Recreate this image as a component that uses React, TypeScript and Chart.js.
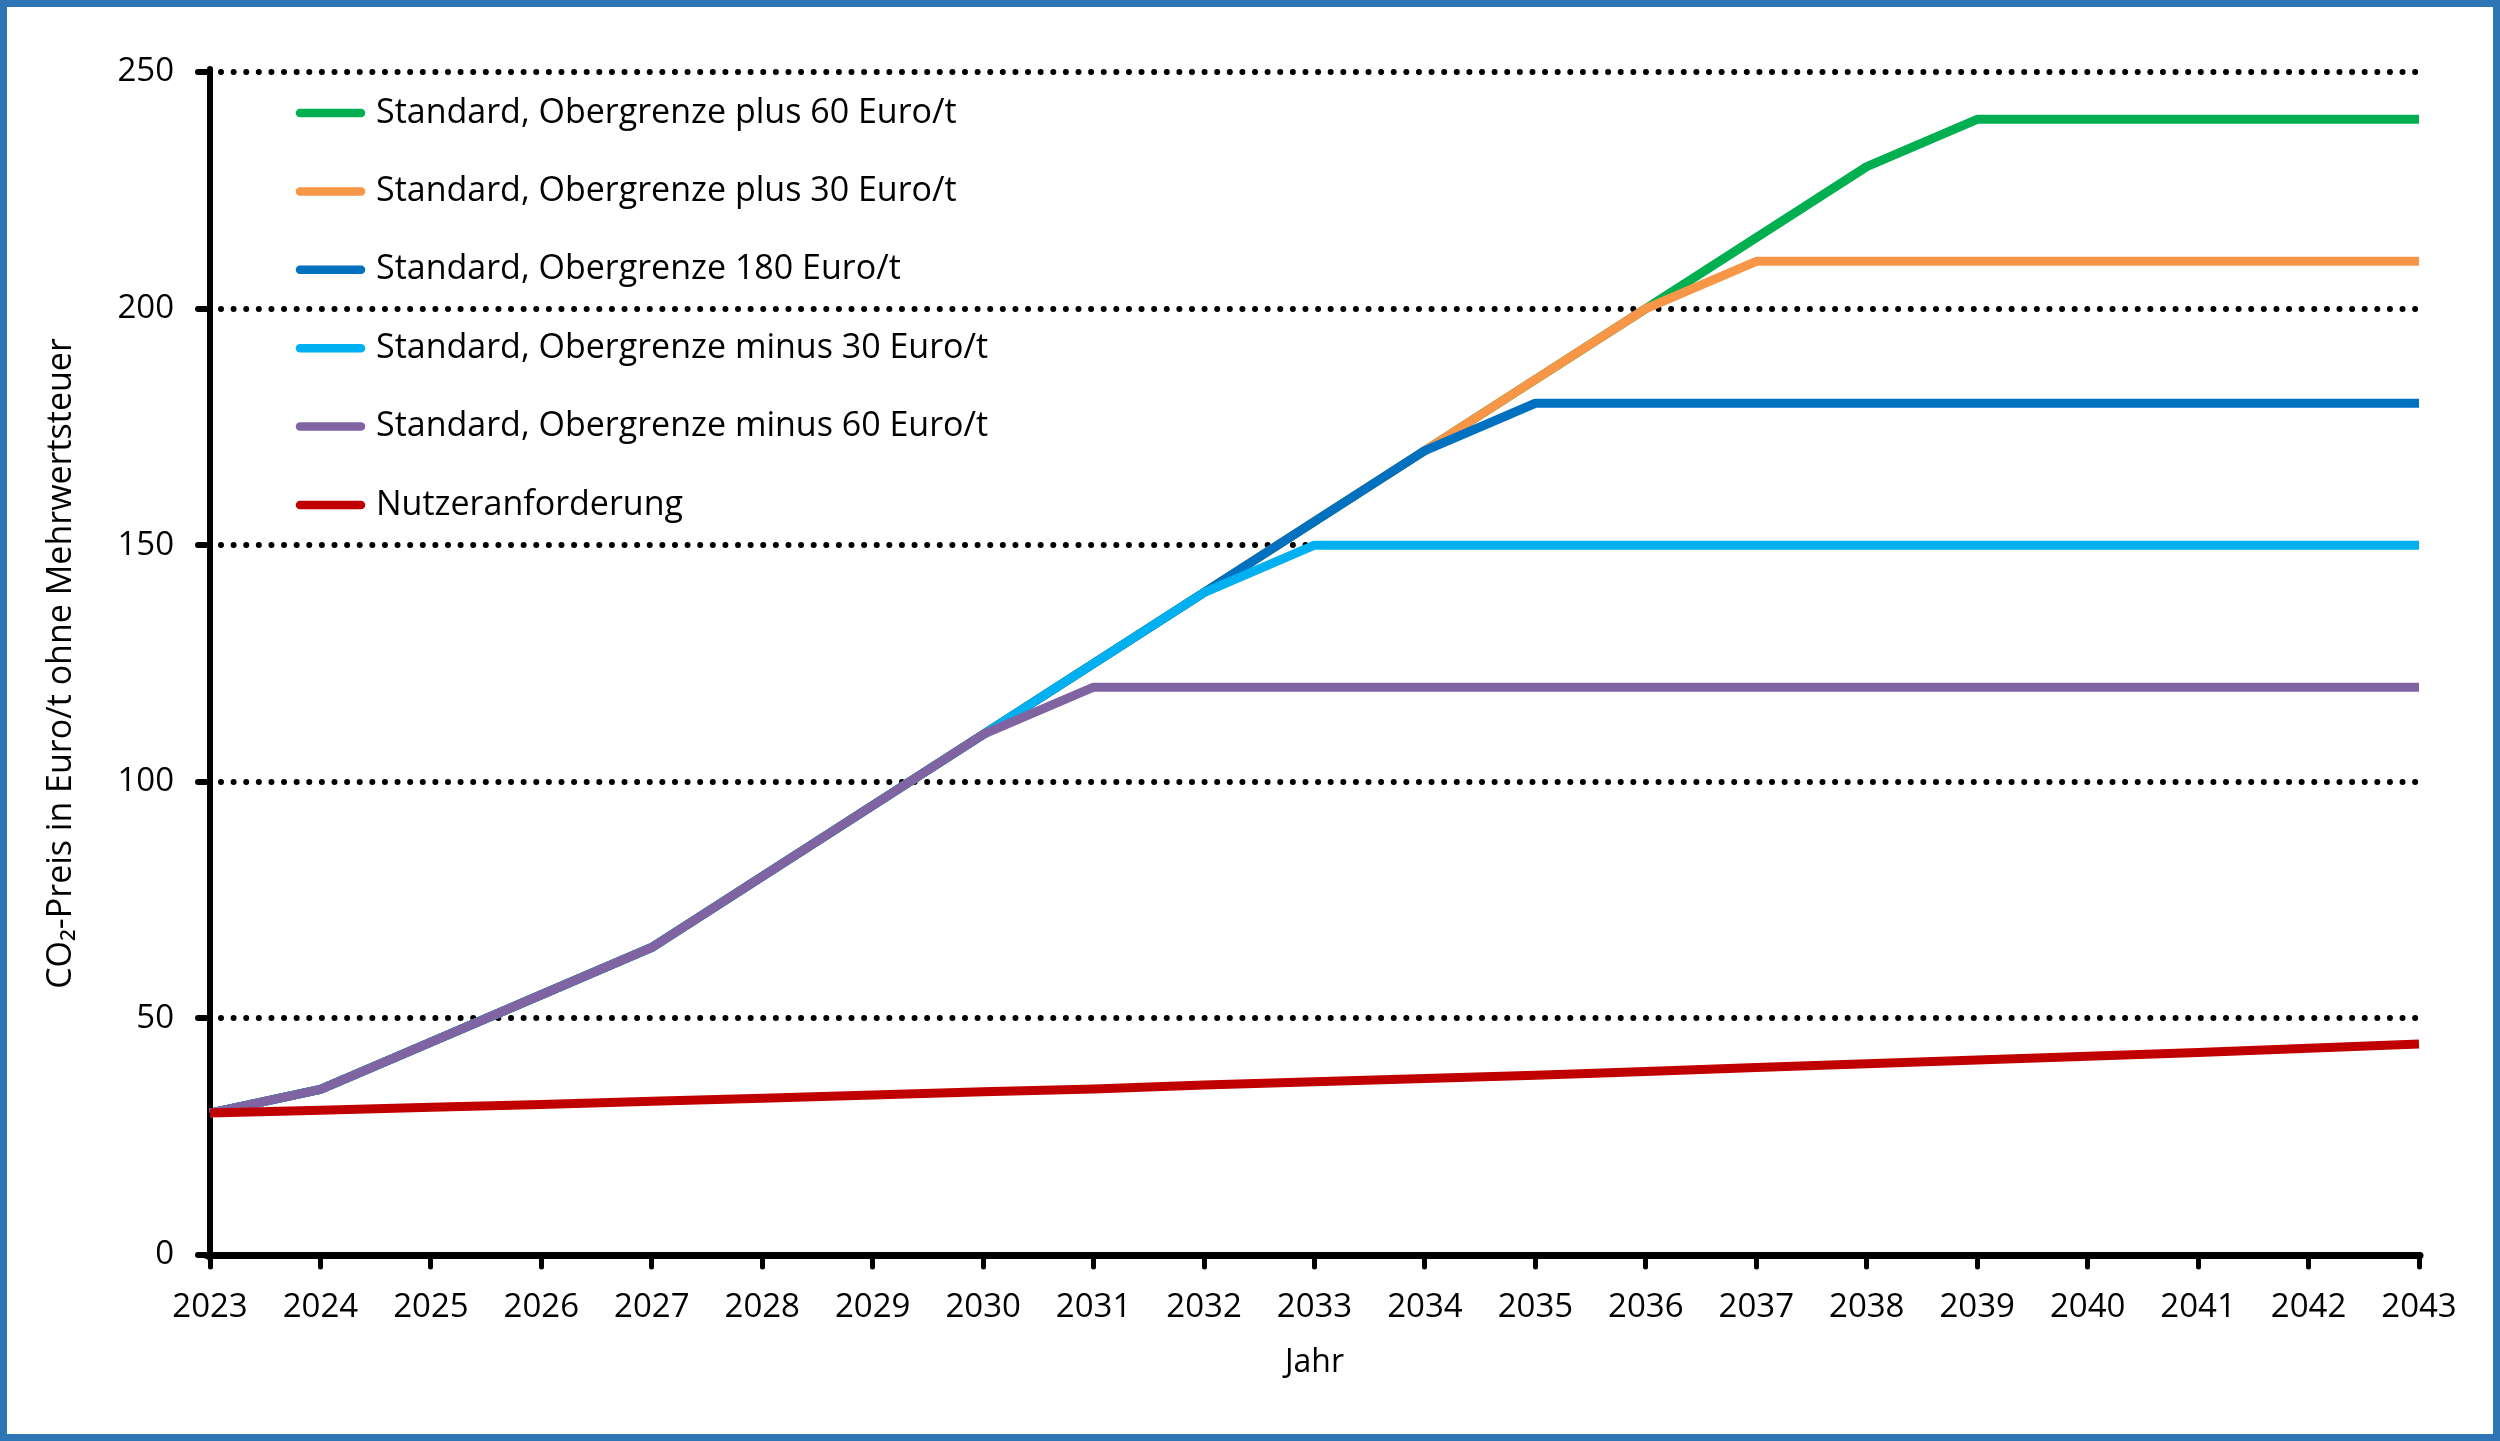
import React, { useEffect, useRef } from "react";
import { Chart, registerables } from "chart.js";

Chart.register(...registerables);

const years = [
  "2023", "2024", "2025", "2026", "2027", "2028", "2029", "2030", "2031", "2032", "2033",
  "2034", "2035", "2036", "2037", "2038", "2039", "2040", "2041", "2042", "2043",
];

const plus60 = [30, 35, 45, 55, 65, 80, 95, 110, 125, 140, 155, 170, 185, 200, 215, 230, 240, 240, 240, 240, 240];
const plus30 = [30, 35, 45, 55, 65, 80, 95, 110, 125, 140, 155, 170, 185, 200, 210, 210, 210, 210, 210, 210, 210];
const cap180 = [30, 35, 45, 55, 65, 80, 95, 110, 125, 140, 155, 170, 180, 180, 180, 180, 180, 180, 180, 180, 180];
const minus30 = [30, 35, 45, 55, 65, 80, 95, 110, 125, 140, 150, 150, 150, 150, 150, 150, 150, 150, 150, 150, 150];
const minus60 = [30, 35, 45, 55, 65, 80, 95, 110, 120, 120, 120, 120, 120, 120, 120, 120, 120, 120, 120, 120, 120];
const nutzer = [30.0, 30.6, 31.2, 31.8, 32.5, 33.1, 33.8, 34.5, 35.1, 35.9, 36.6, 37.3, 38.0, 38.8, 39.6, 40.4, 41.2, 42.0, 42.8, 43.7, 44.6];

const seriesLabels = [
  "Standard, Obergrenze plus 60 Euro/t",
  "Standard, Obergrenze plus 30 Euro/t",
  "Standard, Obergrenze 180 Euro/t",
  "Standard, Obergrenze minus 30 Euro/t",
  "Standard, Obergrenze minus 60 Euro/t",
  "Nutzeranforderung",
];
const seriesColors = ["#00B050", "#F79646", "#0070C0", "#00B0F0", "#8064A2", "#C00000"];
const seriesData = [plus60, plus30, cap180, minus30, minus60, nutzer];
const drawOrder = [5, 4, 3, 2, 1, 0];

const yTicks = [0, 50, 100, 150, 200, 250];
const xTitle = "Jahr";
const yTitle = "CO\u2082-Preis in Euro/t ohne Mehrwertsteuer";

const FONT = "'Open Sans', 'DejaVu Sans', sans-serif";

const W = 2500;
const H = 1441;
const AREA_LEFT = 210;
const AREA_RIGHT = 2419;
const AREA_TOP = 72;
const AREA_BOTTOM = 1255;

const roundCapPlugin = {
  id: "roundCap",
  beforeDraw(chart: any) {
    chart.ctx.lineCap = "round";
  },
};

const legendPlugin = {
  id: "insideLegend",
  afterDraw(chart: any) {
    const ctx = chart.ctx;
    ctx.save();
    ctx.font = `34px ${FONT}`;
    ctx.textBaseline = "middle";
    ctx.textAlign = "left";
    chart.data.datasets.forEach((ds: any, i: number) => {
      const y = 113 + i * 78.4;
      ctx.strokeStyle = ds.borderColor;
      ctx.lineWidth = 8.5;
      ctx.lineCap = "round";
      ctx.beginPath();
      ctx.moveTo(300, y);
      ctx.lineTo(361, y);
      ctx.stroke();
      ctx.fillStyle = "#000";
      ctx.fillText(ds.label, 376, y);
    });
    ctx.restore();
  },
};

export default function App() {
  const ref = useRef<HTMLCanvasElement | null>(null);

  useEffect(() => {
    if (!ref.current) return;
    const chart = new Chart(ref.current, {
      type: "line",
      data: {
        labels: years,
        datasets: seriesData.map((d, i) => ({
          label: seriesLabels[i],
          data: d,
          borderColor: seriesColors[i],
          backgroundColor: seriesColors[i],
          borderWidth: 9,
          pointRadius: 0,
          tension: 0,
          fill: false,
          order: drawOrder[i],
          borderJoinStyle: "round" as const,
          borderCapStyle: "butt" as const,
        })),
      },
      options: {
        animation: false,
        responsive: false,
        devicePixelRatio: 1,
        layout: {
          padding: { left: 0, right: W - AREA_RIGHT, top: AREA_TOP, bottom: 0 },
        },
        plugins: {
          legend: { display: false },
          tooltip: { enabled: false },
          title: { display: false },
        },
        scales: {
          x: {
            type: "category",
            offset: false,
            afterFit: (s: any) => {
              s.height = H - AREA_BOTTOM;
            },
            border: { display: true, color: "#000", width: 7 },
            grid: {
              drawOnChartArea: false,
              drawTicks: true,
              tickLength: 12,
              tickWidth: 5,
              tickColor: "#000",
            },
            ticks: {
              color: "#000",
              font: { family: FONT, size: 33 },
              padding: 21,
              maxRotation: 0,
              autoSkip: false,
            },
            title: {
              display: true,
              text: xTitle,
              color: "#000",
              font: { family: FONT, size: 32 },
              padding: { top: 0, bottom: 59 },
            },
          },
          y: {
            min: 0,
            max: 250,
            afterFit: (s: any) => {
              s.width = AREA_LEFT;
            },
            afterBuildTicks: (s: any) => {
              s.ticks = yTicks.map((v) => ({ value: v }));
            },
            border: { display: true, color: "#000", width: 6, dash: [0.01, 12.6], dashOffset: -8 },
            grid: {
              color: "#000",
              lineWidth: 6,
              drawTicks: true,
              tickLength: 12,
              tickWidth: 6,
              tickColor: "#000",
              tickBorderDash: [],
            },
            ticks: {
              color: "#000",
              font: { family: FONT, size: 33 },
              padding: 24,
            },
            title: {
              display: true,
              text: yTitle,
              color: "#000",
              font: { family: FONT, size: 34 },
              padding: { top: 41, bottom: 0 },
            },
          },
        },
      },
      plugins: [roundCapPlugin, legendPlugin],
    });
    return () => chart.destroy();
  }, []);

  return (
    <div style={{ position: "absolute", left: 0, top: 0, width: W, height: H, background: "#fff" }}>
      <canvas ref={ref} width={W} height={H} style={{ display: "block", width: W, height: H }} />
      <div
        style={{
          position: "absolute",
          left: 0,
          top: 0,
          width: W,
          height: H,
          boxSizing: "border-box",
          border: "7px solid #2E75B6",
          pointerEvents: "none",
        }}
      />
    </div>
  );
}
